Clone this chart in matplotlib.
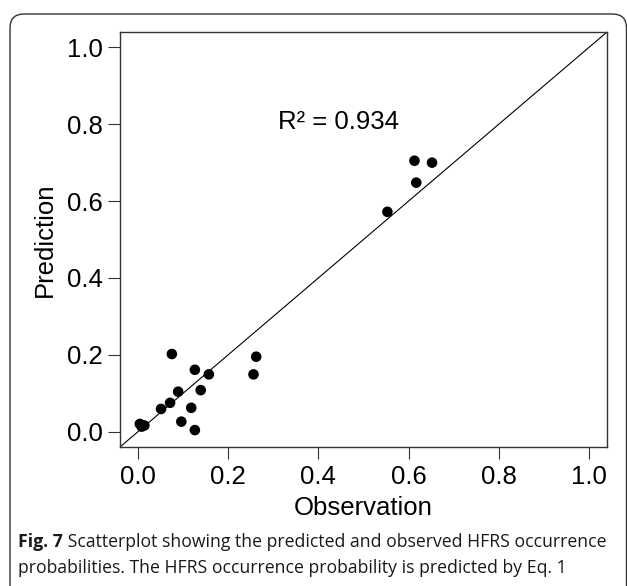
import matplotlib
matplotlib.use("Agg")
import matplotlib.pyplot as plt
from matplotlib.patches import FancyBboxPatch

# observed vs predicted HFRS occurrence probability
observation = [0.004, 0.008, 0.014, 0.075, 0.126, 0.157, 0.089, 0.139, 0.071,
               0.051, 0.118, 0.096, 0.126, 0.256, 0.262, 0.613, 0.652, 0.617, 0.553]
prediction = [0.020, 0.013, 0.016, 0.202, 0.161, 0.149, 0.104, 0.108, 0.075,
              0.059, 0.062, 0.026, 0.004, 0.149, 0.195, 0.705, 0.700, 0.648, 0.572]
ticks = [0.0, 0.2, 0.4, 0.6, 0.8, 1.0]
tick_labels = ["0.0", "0.2", "0.4", "0.6", "0.8", "1.0"]
r2_text = "R\u00b2 = 0.934"
caption_bold = "Fig. 7"
caption_line1 = " Scatterplot showing the predicted and observed HFRS occurrence"
caption_line2 = "probabilities. The HFRS occurrence probability is predicted by Eq. 1"

plt.rcParams['font.family'] = ['Liberation Sans', 'DejaVu Sans']

W, H = 627, 586
fig = plt.figure(figsize=(W / 100, H / 100), dpi=100)
ax = fig.add_axes([120 / W, 1 - 447 / H, (607 - 120) / W, (447 - 32) / H])

lim = (-0.04, 1.04)
ax.plot(lim, lim, color="black", lw=0.8, zorder=1)
ax.scatter(observation, prediction, s=58, color="black", edgecolors="none", zorder=2)
ax.set_xlim(*lim)
ax.set_ylim(*lim)

ax.set_xticks(ticks)
ax.set_xticklabels(tick_labels)
ax.set_yticks(ticks)
ax.set_yticklabels(tick_labels)
ax.tick_params(axis="both", direction="out", length=8.3, width=0.8, labelsize=18.5,
               color="#333333")
ax.tick_params(axis="x", pad=4.5)
ax.tick_params(axis="y", pad=4.3)
for spine in ax.spines.values():
    spine.set_linewidth(1.0)
    spine.set_color("#333333")

ax.text(0.311, 0.787, r2_text, fontsize=18.5, ha="left", va="baseline")

fig.text(363.5 / W, 1 - 515 / H, "Observation", fontsize=18.5, ha="center", va="baseline")
fig.text(57 / W, 1 - 240 / H, "Prediction", fontsize=18.5, rotation=90,
         ha="right", va="center")

# caption
cap_font = ["Open Sans", "DejaVu Sans"]
cap_size = 12.7
bold = fig.text(18 / W, 1 - 546.7 / H, caption_bold, fontsize=cap_size, family=cap_font,
                weight="bold", color="#1a1a1a", ha="left", va="baseline")
fig.canvas.draw()
ax.annotate(caption_line1, xy=(1, 0), xycoords=bold, fontsize=cap_size, family=cap_font,
            color="#1a1a1a", ha="left", va="bottom")
fig.text(18 / W, 1 - 572.7 / H, caption_line2, fontsize=cap_size, family=cap_font,
         color="#1a1a1a", ha="left", va="baseline")

# rounded frame around the figure
frame = FancyBboxPatch((0.10, -0.3), 6.165, 5.72 + 0.3,
                       boxstyle="round,pad=0,rounding_size=0.14",
                       transform=fig.dpi_scale_trans, facecolor="none",
                       edgecolor="#333333", lw=1.0)
fig.patches.append(frame)

fig.savefig("out.png", dpi=100)
